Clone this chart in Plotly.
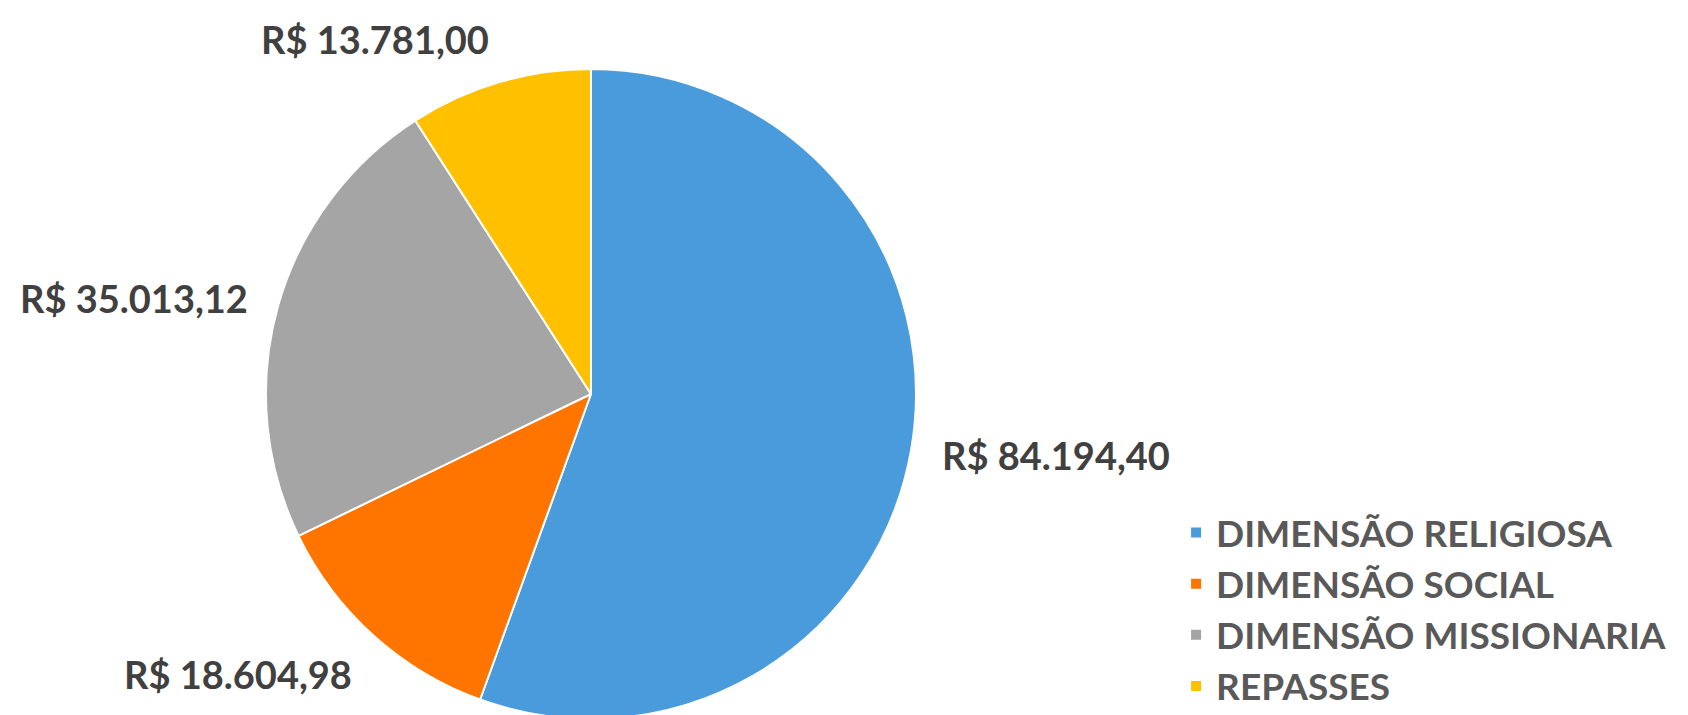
import math
import plotly.graph_objects as go

categories = ["DIMENSÃO RELIGIOSA", "DIMENSÃO SOCIAL", "DIMENSÃO MISSIONARIA", "REPASSES"]
values = [84194.40, 18604.98, 35013.12, 13781.00]
colors = ["#4A9BDC", "#FF7500", "#A5A5A5", "#FFC000"]

W, H = 1688, 715
DOM_X = [0.1528, 0.5379]
DOM_Y = [0.0056, 0.9147]
LABEL_R = 1.09
LABEL_SIZE = 38


def brl(v):
    s = f"{v:,.2f}"
    s = s.replace(",", "X").replace(".", ",").replace("X", ".")
    return "R$ " + s


labels_text = [brl(v) for v in values]

fig = go.Figure(
    go.Pie(
        labels=categories,
        values=values,
        textinfo="none",
        sort=False,
        direction="clockwise",
        rotation=0,
        marker=dict(colors=colors, line=dict(color="white", width=2)),
        domain=dict(x=DOM_X, y=DOM_Y),
        showlegend=True,
        hoverinfo="label+value+percent",
    )
)

# outside value labels placed from the slice mid-angles
cx = (DOM_X[0] + DOM_X[1]) / 2 * W
cy = (1 - (DOM_Y[0] + DOM_Y[1]) / 2) * H
r = min((DOM_X[1] - DOM_X[0]) * W, (DOM_Y[1] - DOM_Y[0]) * H) / 2
total = sum(values)
cum = 0.0
for v, t in zip(values, labels_text):
    mid = (cum + v / 2) / total * 2 * math.pi
    cum += v
    s, c = math.sin(mid), math.cos(mid)
    px = cx + LABEL_R * r * s
    py = cy - LABEL_R * r * c
    xa = "left" if s > 0 else "right"
    # compensate the text box padding so the glyphs sit next to the anchor
    if c > 0.5:
        ya, ys = "bottom", -0.25 * LABEL_SIZE
    elif c < -0.5:
        ya, ys = "top", 0.22 * LABEL_SIZE
    else:
        ya, ys = "middle", 0
    fig.add_annotation(
        x=px / W, y=1 - py / H, xref="paper", yref="paper",
        text=t, showarrow=False, xanchor=xa, yanchor=ya, yshift=ys,
        font=dict(family="Lato", size=LABEL_SIZE, color="#404040", weight="bold"),
    )

fig.update_layout(
    width=W,
    height=H,
    margin=dict(l=0, r=0, t=0, b=0),
    paper_bgcolor="white",
    plot_bgcolor="white",
    legend=dict(
        x=0.692,
        y=0.309,
        xanchor="left",
        yanchor="top",
        font=dict(family="Lato", size=37, color="#595959", weight="bold"),
        tracegroupgap=0,
        itemwidth=30,
    ),
)

fig.write_html("out.html")
